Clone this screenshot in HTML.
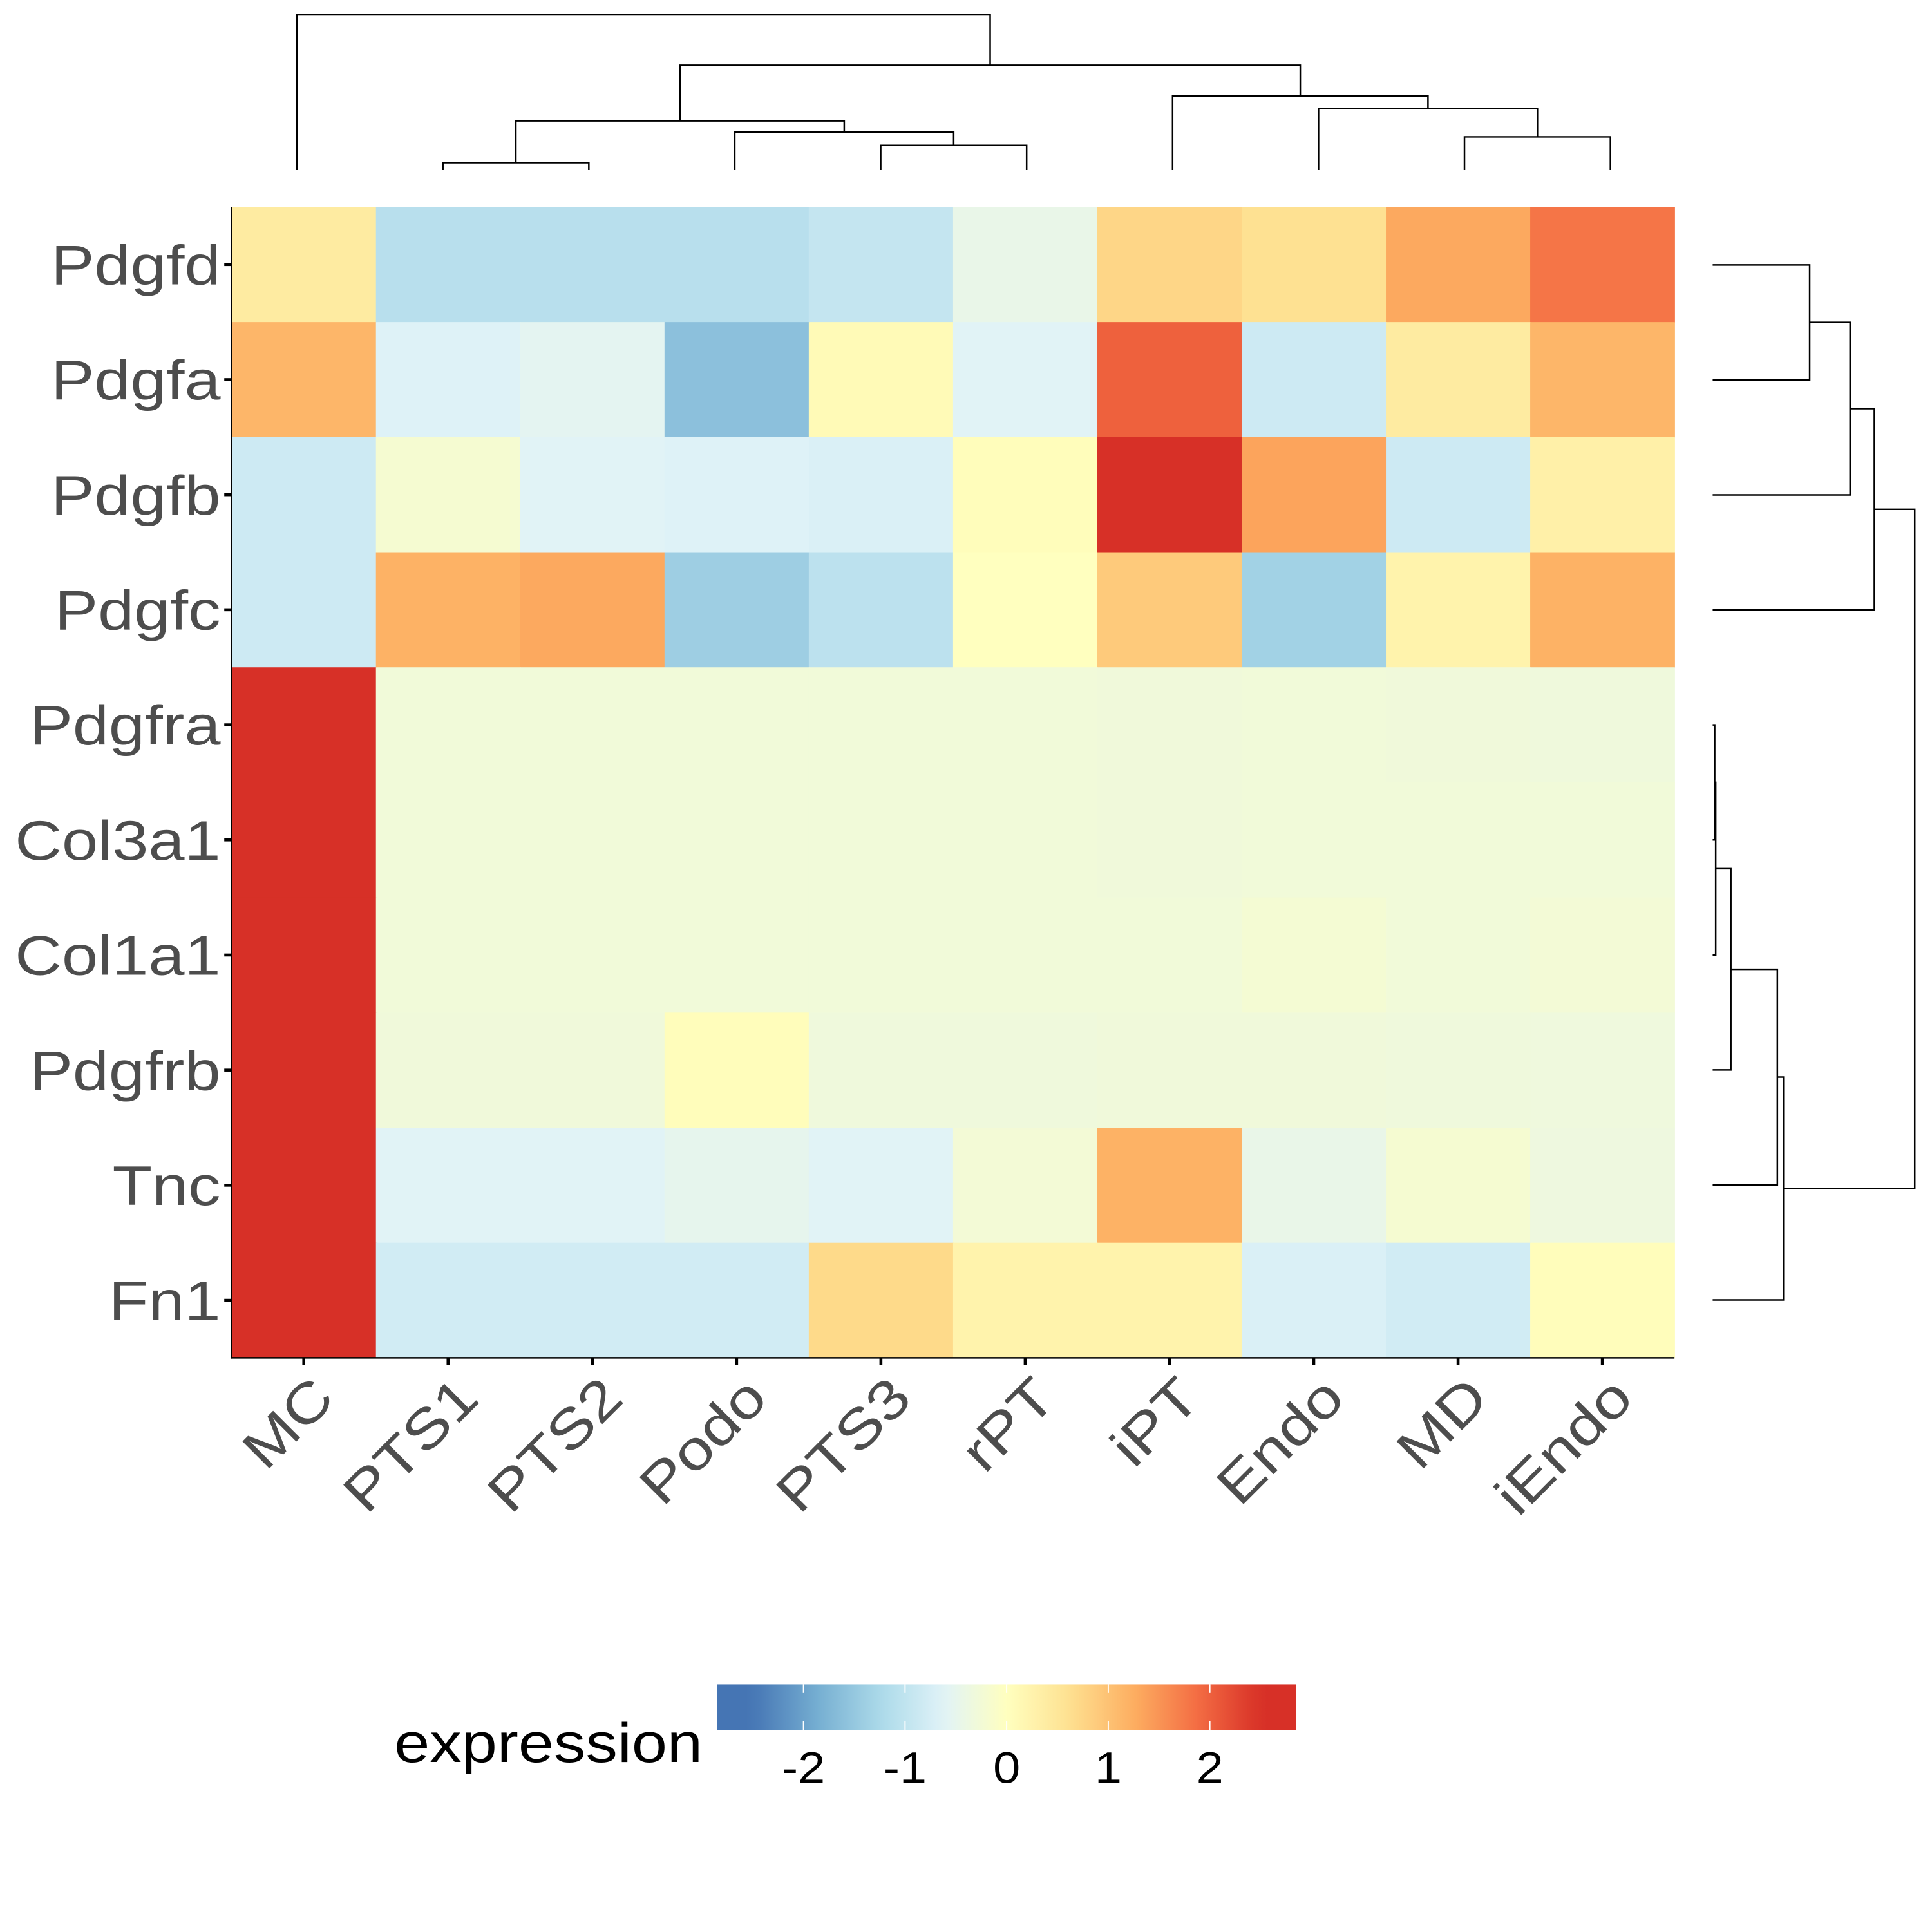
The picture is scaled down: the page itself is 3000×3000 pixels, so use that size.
<!DOCTYPE html>
<html>
<head>
<meta charset="utf-8">
<style>
html,body{margin:0;padding:0;background:#fff;}
svg{display:block;}
</style>
</head>
<body>
<svg id="chart" xmlns="http://www.w3.org/2000/svg" width="3000" height="3000" viewBox="0 0 1568 1568" font-family="Liberation Sans, Arial, sans-serif">
  <defs>
    <linearGradient id="cbgrad" x1="0" x2="1" y1="0" y2="0"></linearGradient>
  </defs>
  <g id="cells"></g>
  <g id="axes"></g>
  <g id="dendro-top"></g>
  <g id="dendro-right"></g>
  <g id="legend"></g>
</svg>
<script>
const columns = ["MC","PTS1","PTS2","Podo","PTS3","rPT","iPT","Endo","MD","iEndo"];
const rows = ["Pdgfd","Pdgfa","Pdgfb","Pdgfc","Pdgfra","Col3a1","Col1a1","Pdgfrb","Tnc","Fn1"];
const valPdgfd  = [0.4,-1.1,-1.1,-1.1,-0.95,-0.45,0.75,0.6,1.3,1.8];
const valPdgfa  = [1.15,-0.65,-0.55,-1.6,0.1,-0.6,2.0,-0.85,0.4,1.15];
const valPdgfb  = [-0.85,-0.2,-0.6,-0.65,-0.7,0.05,2.7,1.35,-0.85,0.3];
const valPdgfc  = [-0.85,1.2,1.3,-1.4,-1.05,0.0,0.9,-1.35,0.25,1.2];
const valPdgfra = [2.85,-0.28,-0.28,-0.28,-0.28,-0.28,-0.3,-0.28,-0.3,-0.32];
const valCol3a1 = [2.85,-0.28,-0.28,-0.28,-0.28,-0.28,-0.3,-0.28,-0.28,-0.28];
const valCol1a1 = [2.85,-0.28,-0.28,-0.28,-0.28,-0.28,-0.28,-0.22,-0.28,-0.25];
const valPdgfrb = [2.85,-0.3,-0.3,0.05,-0.32,-0.32,-0.3,-0.3,-0.32,-0.33];
const valTnc    = [2.85,-0.6,-0.6,-0.5,-0.6,-0.25,1.2,-0.45,-0.2,-0.35];
const valFn1    = [2.85,-0.8,-0.8,-0.8,0.7,0.25,0.25,-0.7,-0.8,0.05];
const matrix = [valPdgfd,valPdgfa,valPdgfb,valPdgfc,valPdgfra,valCol3a1,valCol1a1,valPdgfrb,valTnc,valFn1];
const legendTicks = [-2,-1,0,1,2];
const legendTickLabels = ["-2","-1","0","1","2"];
// dendrogram merges [leftNode, rightNode, height]; leaves 0..9, internal nodes 10+
const colMerges = [[1,2,0.048],[4,5,0.159],[3,11,0.246],[10,12,0.317],[8,9,0.214],[7,14,0.397],[6,15,0.476],[13,16,0.675],[0,17,1.0]];
const rowMerges = [[4,5,0.01],[10,6,0.015],[11,7,0.09],[12,8,0.32],[13,9,0.35],[0,1,0.48],[15,2,0.68],[16,3,0.80],[17,14,1.0]];

const NS="http://www.w3.org/2000/svg";
const X0=188,X1=1359,Y0=168,Y1=1102;
const cw=(X1-X0)/columns.length, ch=(Y1-Y0)/rows.length;
const palette=["#4575b4","#74add1","#abd9e9","#e0f3f8","#ffffbf","#fee090","#fdae61","#f46d43","#d73027"];
const PMIN=-2.5,PMAX=2.5;
function hex2rgb(h){return [1,3,5].map(i=>parseInt(h.substr(i,2),16));}
function color(v){
  let t=(v-PMIN)/(PMAX-PMIN); t=Math.max(0,Math.min(1,t));
  const p=t*(palette.length-1); const i=Math.min(palette.length-2,Math.floor(p)); const f=p-i;
  const a=hex2rgb(palette[i]),b=hex2rgb(palette[i+1]);
  return "rgb("+a.map((c,k)=>Math.round(c+(b[k]-c)*f)).join(",")+")";
}
function xScale(i){return X0+cw*i;}
function yScale(j){return Y0+ch*j;}
function mk(tag,attrs,parent){const e=document.createElementNS(NS,tag);for(const k in attrs)e.setAttribute(k,attrs[k]);parent.appendChild(e);return e;}

const cells=document.getElementById("cells");
rows.forEach((r,j)=>{columns.forEach((c,i)=>{
  const e=mk("rect",{x:xScale(i),y:yScale(j),width:cw+0.4,height:ch+0.4,fill:color(matrix[j][i])},cells);
  
  
});});

const axes=document.getElementById("axes");
mk("line",{x1:X0,y1:Y0,x2:X0,y2:Y1+0.6,stroke:"#000","stroke-width":1.3},axes);
mk("line",{x1:X0-0.6,y1:Y1,x2:X1,y2:Y1,stroke:"#000","stroke-width":1.3},axes);
rows.forEach((r,j)=>{
  const y=yScale(j)+ch/2;
  mk("line",{x1:X0-6,y1:y,x2:X0,y2:y,stroke:"#000","stroke-width":2.4},axes);
  const t=mk("text",{transform:"translate("+(X0-9)+","+(y+16)+") scale(1.17,1)","text-anchor":"end","font-size":45,fill:"#4d4d4d"},axes);
  t.textContent=r;
  
  
});
columns.forEach((c,i)=>{
  const x=xScale(i)+cw/2;
  mk("line",{x1:x,y1:Y1,x2:x,y2:Y1+6,stroke:"#000","stroke-width":2.4},axes);
  const t=mk("text",{transform:"translate("+(x+4)+","+(Y1+12)+") rotate(-45) scale(1.17,1)","text-anchor":"end","font-size":45,fill:"#4d4d4d",dy:"0.72em"},axes);
  t.textContent=c;
  
  
});

// top dendrogram
const dt=document.getElementById("dendro-top");
const colLeafX=i=>241+i*(1307-241)/9;
const TB=138,TT=12;
const cpos={};
for(let i=0;i<10;i++)cpos[i]={p:colLeafX(i),h:0};
colMerges.forEach((m,k)=>{
  const a=cpos[m[0]],b=cpos[m[1]],h=m[2];
  const y=TB-(TB-TT)*h, ya=TB-(TB-TT)*a.h, yb=TB-(TB-TT)*b.h;
  const e=mk("path",{d:"M"+a.p+","+ya+"V"+y+"H"+b.p+"V"+yb,fill:"none",stroke:"#000","stroke-width":1.3},dt);
  
  
  cpos[10+k]={p:(a.p+b.p)/2,h:h};
});

// right dendrogram
const dr=document.getElementById("dendro-right");
const rowLeafY=j=>215+j*(1055-215)/9;
const RL=1390,RR=1554;
const rpos={};
for(let j=0;j<10;j++)rpos[j]={p:rowLeafY(j),h:0};
rowMerges.forEach((m,k)=>{
  const a=rpos[m[0]],b=rpos[m[1]],h=m[2];
  const x=RL+(RR-RL)*h, xa=RL+(RR-RL)*a.h, xb=RL+(RR-RL)*b.h;
  const e=mk("path",{d:"M"+xa+","+a.p+"H"+x+"V"+b.p+"H"+xb,fill:"none",stroke:"#000","stroke-width":1.3},dr);
  
  
  rpos[10+k]={p:(a.p+b.p)/2,h:h};
});

// legend
const lg=document.getElementById("legend");
const BX0=582,BX1=1052,BY0=1367,BY1=1404,BMIN=-2.85,BMAX=2.85;
const grad=document.getElementById("cbgrad");
for(let s=0;s<=40;s++){
  const v=BMIN+(BMAX-BMIN)*s/40;
  mk("stop",{offset:(s/40),"stop-color":color(v)},grad);
}
const bar=mk("rect",{x:BX0,y:BY0,width:BX1-BX0,height:BY1-BY0,fill:"url(#cbgrad)"},lg);


const bx=v=>BX0+(v-BMIN)/(BMAX-BMIN)*(BX1-BX0);
legendTicks.forEach((v,i)=>{
  const x=bx(v);
  mk("line",{x1:x,y1:BY0,x2:x,y2:BY0+7,stroke:"#fff","stroke-width":1},lg);
  mk("line",{x1:x,y1:BY1-7,x2:x,y2:BY1,stroke:"#fff","stroke-width":1},lg);
  const t=mk("text",{transform:"translate("+x+",1447) scale(1.1,1)","text-anchor":"middle","font-size":36,fill:"#000"},lg);
  t.textContent=legendTickLabels[i];
  
  
});
const lt=mk("text",{transform:"translate(320,1430) scale(1.15,1)","font-size":45,fill:"#000"},lg);
lt.textContent="expression";


</script>
</body>
</html>
